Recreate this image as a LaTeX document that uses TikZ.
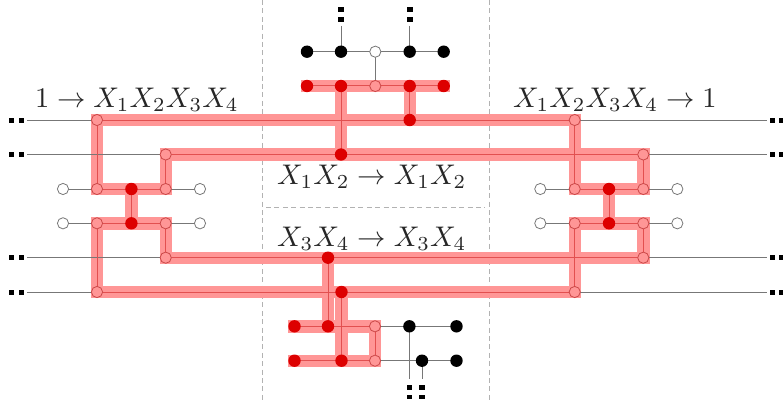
\documentclass[tikz,border=0pt]{standalone}
\usepackage{amsmath}
\definecolor{hl}{HTML}{FF9696}
\definecolor{reddot}{HTML}{DD0000}
\definecolor{corecol}{HTML}{E25050}
\definecolor{wire}{HTML}{777777}
\tikzset{
  x=1pt,y=-1pt,
  wire/.style={draw=wire,line width=1pt},
  band/.style={draw=hl,line width=12.4pt,line cap=rect,line join=miter},
  core/.style={draw=corecol,line width=1pt},
  bdot/.style={circle,fill=black,inner sep=0,minimum size=12.4pt},
  rdot/.style={circle,fill=reddot,inner sep=0,minimum size=12.4pt},
  odot/.style={circle,draw=wire,fill=white,line width=0.8pt,inner sep=0,minimum size=11.2pt},
  pfill/.style={circle,draw=corecol!90!black,fill=hl,line width=0.8pt,inner sep=0,minimum size=11.2pt},
  tick/.style={fill=black,inner sep=0,minimum width=5pt,minimum height=5pt},
  vtick/.style={fill=black,inner sep=0,minimum width=5.8pt,minimum height=4.2pt},
  sep/.style={draw=black!30,line width=0.8pt,dash pattern=on 5pt off 3.4pt},
  lab/.style={inner sep=0,scale=2.84,text=black!85},
}
\begin{document}
\begin{tikzpicture}
\useasboundingbox (0,0) rectangle (783,401);
% separators
\coordinate (s1a) at (262,0);\coordinate (s1b) at (262,401);
\coordinate (s2a) at (489.7,0);\coordinate (s2b) at (489.7,401);
\coordinate (s3a) at (266,207);\coordinate (s3b) at (485,207);
\draw[sep] (s1a)--(s1b);\draw[sep] (s2a)--(s2b);\draw[sep] (s3a)--(s3b);
% coordinates
\foreach \n/\xx/\yy in {
 a1/97/120,a2/165.7/154.5,a3/97/189,a4/131.4/189,a5/165.7/189,
 a6/97/223.3,a7/131.4/223.3,a8/165.7/223.3,a9/165.7/257.7,a10/97/292,
 b1/574.7/120,b2/643.3/154.5,b3/574.7/189,b4/609/189,b5/643.3/189,
 b6/574.7/223.3,b7/609/223.3,b8/643.3/223.3,b9/643.3/257.7,b10/574.7/292,
 t1/307/86,t2/341/86,t3/375.3/86,t4/409.7/86,t5/443.7/86,
 u1/307/51.7,u2/341/51.7,u3/375.3/51.7,u4/409.7/51.7,u5/443.7/51.7,
 m1/409.7/120,m2/341/154.5,
 n1/328/257.7,n2/341.5/292,
 c1/294.5/326.3,c2/328/326.3,c3/375/326.3,c4/294.5/360.7,c5/341.5/360.7,c6/375/360.7,
 d1/409.4/326.3,d2/456.5/326.3,d3/422/360.7,d4/456.5/360.7,
 lo1/63/189,lo2/63/223.3,ro1/200/189,ro2/200/223.3,
 lp1/540.3/189,lp2/540.3/223.3,rp1/677.3/189,rp2/677.3/223.3,
 le1/27/120,le2/27/154.5,le3/27/257.7,le4/27/292,
 re1/766.7/120,re2/766.7/154.5,re3/766.7/257.7,re4/766.7/292,
 v1/341/26,v2/409.7/26,v3/409.4/379,v4/422/379}
 {\coordinate (\n) at (\xx,\yy);}
% bands
\draw[band] (a3)--(a1)--(b1)--(b3)--(b5)--(b2)--(a2)--(a5)--cycle;
\draw[band] (a6)--(a10)--(b10)--(b6)--(b8)--(b9)--(a9)--(a8)--cycle;
\draw[band] (a4)--(a7);\draw[band] (b4)--(b7);
\draw[band] (t1)--(t5);\draw[band] (t2)--(m2);\draw[band] (t4)--(m1);
\draw[band] (n1)--(c2);\draw[band] (n2)--(c5);
\draw[band] (c1)--(c3)--(c6)--(c4);
% wires outside the bands
\draw[wire] (le1)--(a1) (le2)--(a2) (le3)--(a9) (le4)--(a10);
\draw[wire] (re1)--(b1) (re2)--(b2) (re3)--(b9) (re4)--(b10);
\draw[wire] (lo1)--(a3) (a5)--(ro1) (lo2)--(a6) (a8)--(ro2);
\draw[wire] (lp1)--(b3) (b5)--(rp1) (lp2)--(b6) (b8)--(rp2);
\draw[wire] (u1)--(u5) (v1)--(u2) (v2)--(u4) (u3)--(t3);
\draw[wire] (c3)--(d2) (c6)--(d4) (d1)--(v3) (d3)--(v4);
% cores
\draw[core] (a3)--(a1)--(b1)--(b3)--(b5)--(b2)--(a2)--(a5)--cycle;
\draw[core] (a6)--(a10)--(b10)--(b6)--(b8)--(b9)--(a9)--(a8)--cycle;
\draw[core] (a4)--(a7) (b4)--(b7);
\draw[core] (t1)--(t5) (t2)--(m2) (t4)--(m1);
\draw[core] (n1)--(c2) (n2)--(c5);
\draw[core] (c1)--(c3)--(c6)--(c4);
% dots
\foreach \p in {a1,a2,a3,a5,a6,a8,a9,a10,b1,b2,b3,b5,b6,b8,b9,b10,t3,c3,c6}
 \node[pfill] at (\p) {};
\foreach \p in {a4,a7,b4,b7,t1,t2,t4,t5,m1,m2,n1,n2,c1,c2,c4,c5}
 \node[rdot] at (\p) {};
\foreach \p in {u1,u2,u4,u5,d1,d2,d3,d4}
 \node[bdot] at (\p) {};
\foreach \p in {u3,lo1,lo2,ro1,ro2,lp1,lp2,rp1,rp2}
 \node[odot] at (\p) {};
% ticks
\foreach \yy in {120,154.5,257.7,292}{
 \node[tick] (tl\yy) at (11.7,\yy) {};\node[tick] (tm\yy) at (21.3,\yy) {};
 \node[tick] (tr\yy) at (772.3,\yy) {};\node[tick] (ts\yy) at (781.7,\yy) {};}
\foreach \xx in {341,409.7}{
 \node[vtick] (vu\xx) at (\xx,9.5) {};\node[vtick] (vw\xx) at (\xx,19.5) {};}
\foreach \xx in {409.4,422}{
 \node[vtick] (vx\xx) at (\xx,387.5) {};\node[vtick] (vy\xx) at (\xx,397) {};}
% labels
\node[lab,anchor=base west] (l1) at (34.5,107) {$1\to X_1X_2X_3X_4$};
\node[lab,anchor=base west] (l2) at (512.5,107) {$X_1X_2X_3X_4\to 1$};
\node[lab,anchor=base west] (l3) at (276.5,184) {$X_1X_2\to X_1X_2$};
\node[lab,anchor=base west] (l4) at (276.5,246) {$X_3X_4\to X_3X_4$};
\end{tikzpicture}
\end{document}
